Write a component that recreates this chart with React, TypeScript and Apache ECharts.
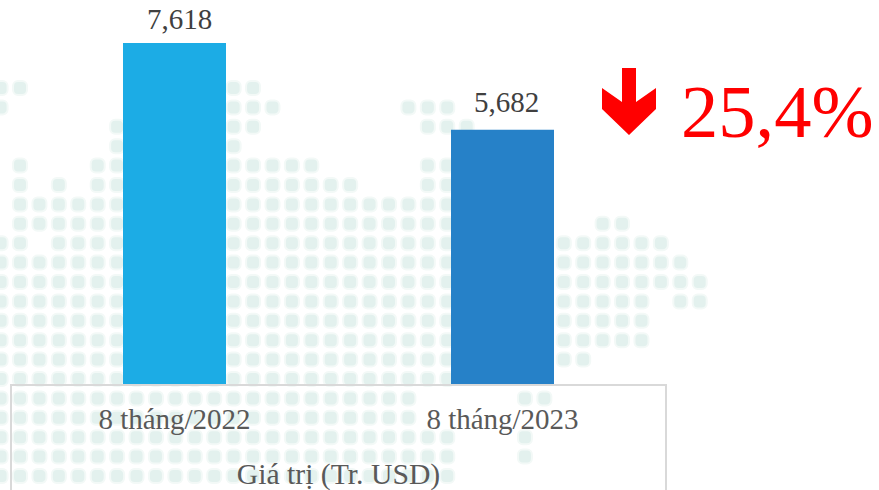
import React, { useEffect, useRef } from "react";
import * as echarts from "echarts";

const categories = ["8 tháng/2022", "8 tháng/2023"];
const values = [7618, 5682];
const barColors = ["#1CACE5", "#2681C8"];
const axisTitle = "Giá trị (Tr. USD)";
const changeText = "25,4%";

// Faint world-map backdrop: for each row of the dot raster, the runs of filled columns.
const mapRows: number[][][] = [
  [[0, 1], [12, 13]],
  [[0, 0], [12, 14], [21, 23]],
  [[6, 6], [12, 13], [22, 24]],
  [[6, 6], [12, 12]],
  [[1, 1], [5, 6], [12, 16], [22, 23]],
  [[1, 1], [3, 3], [5, 6], [12, 18], [22, 23]],
  [[1, 23]],
  [[1, 23], [31, 32]],
  [[0, 1], [3, 23], [29, 34]],
  [[0, 23], [29, 35]],
  [[0, 23], [29, 36]],
  [[0, 23], [29, 33], [35, 36]],
  [[0, 23], [29, 33]],
  [[0, 23], [29, 33]],
  [[0, 23], [29, 30]],
  [[0, 23]],
  [[0, 21], [27, 28]],
  [[0, 21]],
  [[0, 23], [27, 27]],
  [[0, 23], [27, 27]],
  [[0, 23]],
];

function mapDots() {
  const dots: any[] = [];
  mapRows.forEach((runs, r) => {
    runs.forEach(([a, b]) => {
      for (let c = a; c <= b; c++) {
        dots.push({
          type: "rect",
          silent: true,
          z: -10,
          shape: { x: 0.6 + 19.42 * c - 7, y: 88 + 19.4 * r - 7, width: 14, height: 14, r: 5 },
          style: { fill: "#E3F1EE", stroke: "#F3F9F7", lineWidth: 2 },
        });
      }
    });
  });
  return dots;
}

export default function App() {
  const ref = useRef<HTMLDivElement>(null);
  useEffect(() => {
    document.body.style.margin = "0";
    const chart = echarts.init(ref.current!, null, { renderer: "svg" });
    const serif = "'Liberation Serif', 'Times New Roman', serif";
    chart.setOption({
      animation: false,
      backgroundColor: "#FFFFFF",
      textStyle: { fontFamily: serif },
      grid: { left: 10.5, right: 212.5, top: 26, bottom: 106, outerBoundsMode: "none" },
      xAxis: {
        type: "category",
        data: categories,
        axisLine: { show: false },
        axisTick: { show: false },
        axisLabel: { color: "#595959", fontSize: 29, fontFamily: serif, margin: 20, interval: 0 },
        name: axisTitle,
        nameLocation: "middle",
        nameGap: 75,
        nameTextStyle: { color: "#595959", fontSize: 29.7, fontFamily: serif },
      },
      yAxis: { type: "value", min: 0, max: 8000, show: false },
      series: [
        {
          type: "bar",
          barWidth: 103,
          data: values.map((v, i) => ({
            value: v,
            itemStyle: { color: barColors[i] },
            label: { distance: i === 0 ? 10 : 13, offset: [i === 0 ? 5 : 4, 0] },
          })),
          label: {
            show: true,
            position: "top",
            color: "#404040",
            fontSize: 29,
            fontFamily: serif,
            formatter: (p: any) => p.value.toLocaleString("en-US"),
          },
        },
      ],
      graphic: [
        ...mapDots(),
        {
          type: "rect",
          silent: true,
          z: -5,
          shape: { x: 11, y: 385, width: 655, height: 120 },
          style: { fill: "transparent", stroke: "#D9D9D9", lineWidth: 2 },
        },
        {
          type: "polygon",
          silent: true,
          shape: {
            points: [[622, 68], [636, 68], [636, 102], [656, 88], [656, 109], [629, 135], [602, 109], [602, 88], [622, 102]],
          },
          style: { fill: "#FF0000" },
        },
        {
          type: "text",
          silent: true,
          x: 681,
          y: 74,
          style: { text: changeText, fill: "#FF0000", font: `74.5px ${serif}` },
        },
      ],
    });
    return () => chart.dispose();
  }, []);
  return <div ref={ref} style={{ position: "fixed", left: 0, top: 0, width: 879, height: 490 }} />;
}
